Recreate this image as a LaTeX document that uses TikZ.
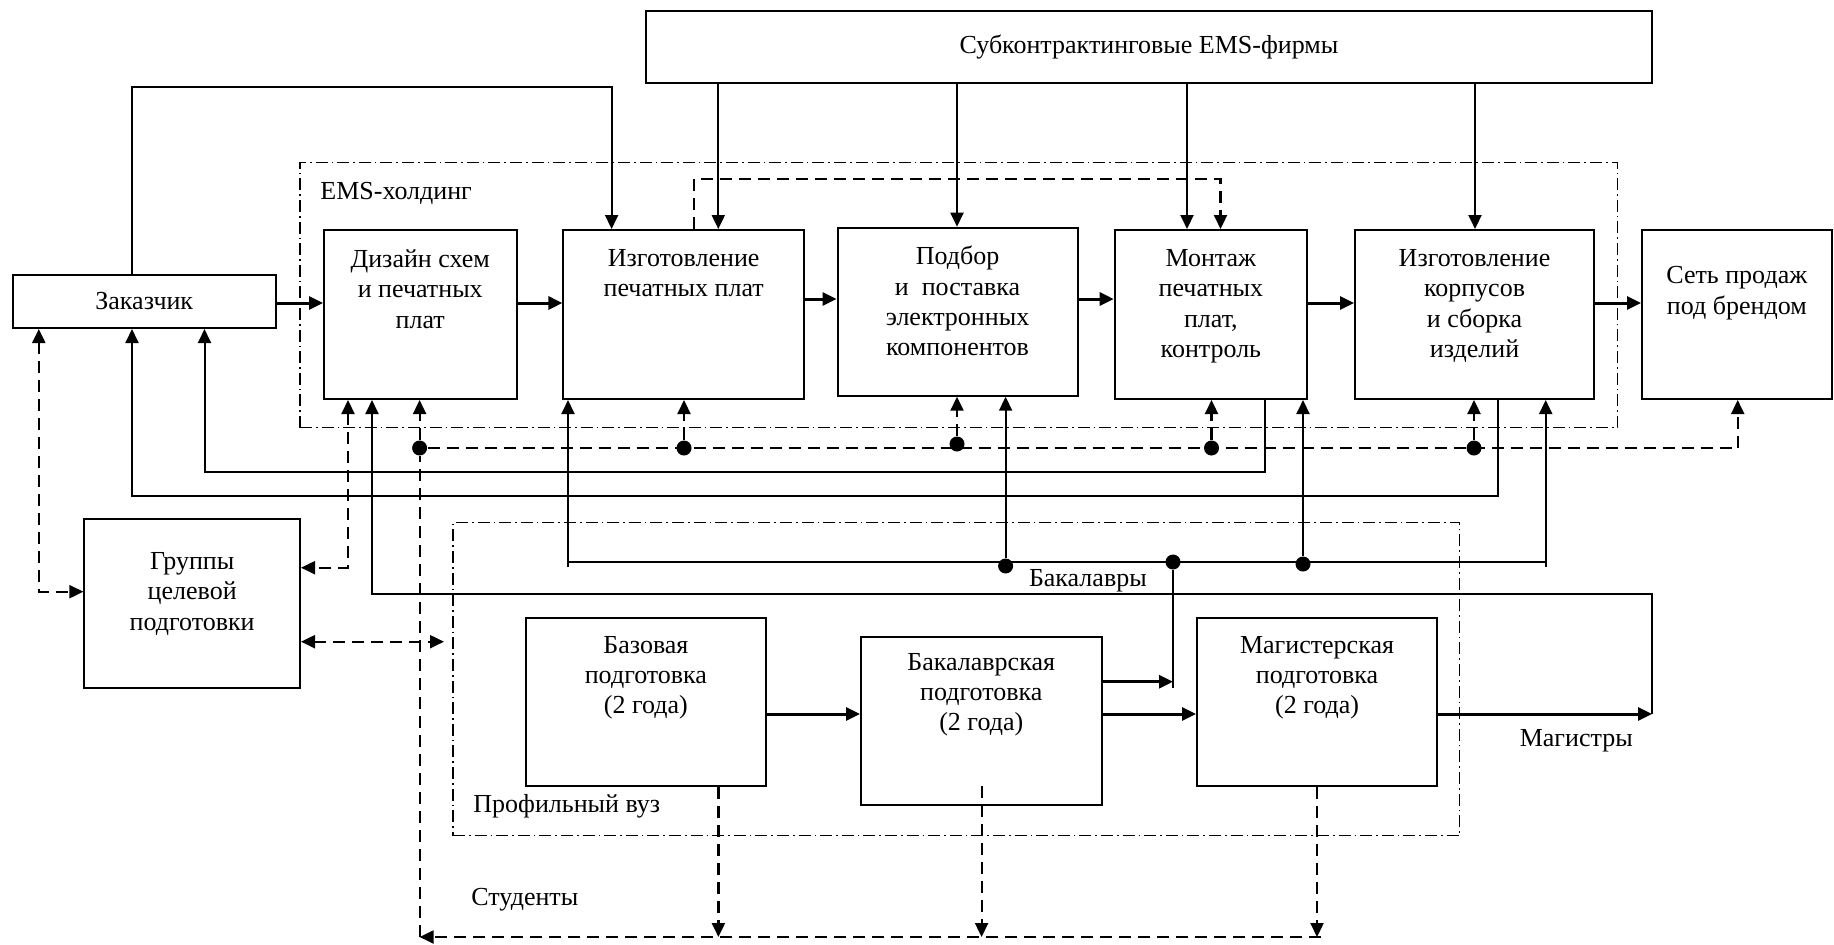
\documentclass[tikz,border=0pt]{standalone}
\usepackage{fontspec}
\setmainfont{Liberation Serif}
\usetikzlibrary{arrows.meta,calc}

% rectangle node given by its corners: [style]{name}{x1}{y1}{x2}{y2}
\newcommand\rbox[6][box]{%
  \node[#1, minimum width={(#5-#3)*0.5pt}, minimum height={(#6-#4)*0.5pt}]
    (#2) at ({(#3+#5)/2},{(#4+#6)/2}) {};}

\tikzset{
  box/.style={draw, line width=1pt, inner sep=0pt},
  zone/.style={draw, line width=0.7pt, inner sep=0pt,
               dash pattern=on 6pt off 2pt on 0.8pt off 2pt},
  txt/.style={align=center, inner sep=0pt, font=\fontsize{13}{15.2}\selectfont},
  flow/.style={line width=1.5pt, ->},
  conn/.style={line width=1pt},
  dsh/.style={line width=1.1pt, dash pattern=on 6pt off 3.5pt},
  dot/.style={circle, fill, inner sep=0pt, minimum size=7.5pt},
}

\begin{document}
\begin{tikzpicture}[x=0.5pt, y=-0.5pt, >={Triangle[length=7pt,width=6.5pt]}]
\useasboundingbox (0,0) rectangle (1834,944);

% dash-dotted zones
\rbox[zone]{ems}{300}{162.7}{1617.7}{427.7}
\rbox[zone]{vuz}{453}{522.7}{1459.6}{835.7}

% boxes
\rbox{zak}{12.5}{275}{276}{328}
\rbox{sub}{646}{10.7}{1652}{82.7}
\rbox{diz}{324}{230}{516.5}{399}
\rbox{izg}{563.4}{230}{804}{399}
\rbox{pod}{837.5}{227.7}{1077.6}{395.7}
\rbox{mon}{1114.7}{230}{1307}{399}
\rbox{kor}{1355}{230}{1594}{399}
\rbox{set}{1642}{230}{1831.6}{399}
\rbox{grp}{84.4}{519}{300}{688}
\rbox{baz}{526}{617.7}{765.8}{786}
\rbox{bak}{861}{636.7}{1101.5}{805}
\rbox{mag}{1197}{617.7}{1437}{786}

% box texts
\node[txt] (zakT) at (zak.center) {Заказчик};
\node[txt] (subT) at (sub.center) {Субконтрактинговые EMS-фирмы};
\node[txt, anchor=north] (dizT) at ([yshift=-10pt]diz.north) {Дизайн схем\\и печатных\\плат};
\node[txt, anchor=north] (izgT) at ([yshift=-10pt]izg.north) {Изготовление\\печатных плат};
\node[txt, anchor=north] (podT) at ([yshift=-9.5pt]pod.north) {Подбор\\и~ поставка\\электронных\\компонентов};
\node[txt, anchor=north] (monT) at ([yshift=-10pt]mon.north) {Монтаж\\печатных\\плат,\\контроль};
\node[txt, anchor=north] (korT) at ([yshift=-10pt]kor.north) {Изготовление\\корпусов\\и сборка\\изделий};
\node[txt, anchor=north] (setT) at ([yshift=-18.5pt]set.north) {Сеть продаж\\под брендом};
\node[txt, anchor=north] (grpT) at ([yshift=-17pt]grp.north) {Группы\\целевой\\подготовки};
\node[txt, anchor=north] (bazT) at ([yshift=-9.5pt]baz.north) {Базовая\\подготовка\\(2 года)};
\node[txt, anchor=north] (bakT) at ([yshift=-8.5pt]bak.north) {Бакалаврская\\подготовка\\(2 года)};
\node[txt, anchor=north] (magT) at ([yshift=-9.5pt]mag.north) {Магистерская\\подготовка\\(2 года)};

% free labels
\node[txt, anchor=north west] (emsL) at (320,182) {EMS-холдинг};
\node[txt, anchor=north west] (vuzL) at (473,794) {Профильный вуз};
\node[txt, anchor=north west] (stL) at (471,888) {Студенты};
\node[txt, anchor=north west] (bkL) at (1028.6,569) {Бакалавры};
\node[txt, anchor=north west] (mgL) at (1519.4,729) {Магистры};

% junction dots
\node[dot] (dD) at (419.6,448) {};
\node[dot] (dI) at (684,448) {};
\node[dot] (dP) at (957,444) {};
\node[dot] (dM) at (1211.5,448) {};
\node[dot] (dK) at (1474,448) {};
\node[dot] (bP) at (1005.6,566) {};
\node[dot] (bJ) at (1173,562) {};
\node[dot] (bM) at (1303,564) {};

% main production flow
\coordinate (rowA) at (0,303);
\coordinate (rowB) at (0,299);
\coordinate (rowC) at (0,714);
\draw[flow] (zak.east |- rowA) -- (diz.west |- rowA);
\draw[flow] (diz.east |- rowA) -- (izg.west |- rowA);
\draw[flow] (izg.east |- rowB) -- (pod.west |- rowB);
\draw[flow] (pod.east |- rowB) -- (mon.west |- rowB);
\draw[flow] (mon.east |- rowA) -- (kor.west |- rowA);
\draw[flow] (kor.east |- rowA) -- (set.west |- rowA);
\draw[flow] (baz.east |- rowC) -- (bak.west |- rowC);
\draw[flow] (bak.east |- rowC) -- (mag.west |- rowC);

% subcontractors feed the holding
\foreach \x/\b in {718.3/izg, 957/pod, 1187/mon, 1475/kor}{
  \coordinate (sx) at (\x,0);
  \draw[conn,->] (sub.south -| sx) -- (\b.north -| sx);
}

% order from the customer
\coordinate (tL) at (132,87);
\coordinate (tR) at (611.6,87);
\draw[conn,->] (zak.north -| tL) -- (tL) -- (tR) -- (izg.north -| tR);

% dashed loop over the holding
\coordinate (lA) at (693.7,179);
\coordinate (lB) at (1220.5,179);
\draw[dsh,->] (izg.north -| lA) -- (lA) -- (lB) -- (mon.north -| lB);

% dashed distribution row
\coordinate (eS) at (1737.7,448);
\draw[dsh] (dD) -- (eS);
\draw[dsh,->] (eS) -- (set.south -| eS);
\draw[dsh,->] (dD) -- (diz.south -| dD);
\draw[dsh,->] (dI) -- (izg.south -| dI);
\draw[dsh,->] (dP) -- (pod.south -| dP);
\draw[dsh,->] (dM) -- (mon.south -| dM);
\draw[dsh,->] (dK) -- (kor.south -| dK);

% students
\coordinate (stC) at (419.6,937);
\coordinate (stR) at (1321,937);
\draw[dsh,->] (stR) -- (stC);
\draw[dsh] (stC) -- (dD);
\foreach \x/\b in {718.4/baz, 1317/mag}{
  \coordinate (sx) at (\x,937);
  \draw[dsh,->] (\b.south -| sx) -- (sx);
}
\coordinate (bkS) at (981.6,786);
\coordinate (bkD) at (981.6,937);
\draw[dsh,->] (bkS) -- (bkD);

% target groups
\coordinate (zg) at (38.8,591.7);
\draw[dsh,<->] (zak.south -| zg) -- (zg) -- (grp.west |- zg);
\coordinate (dg) at (348,567.7);
\draw[dsh,<->] (diz.south -| dg) -- (dg) -- (grp.east |- dg);
\coordinate (gv) at (444,641.7);
\draw[dsh,<->] (grp.east |- gv) -- (gv);

% products back to the customer
\coordinate (mA) at (1264.7,471.7);
\coordinate (mB) at (204.5,471.7);
\draw[conn,->] (mon.south -| mA) -- (mA) -- (mB) -- (zak.south -| mB);
\coordinate (kA) at (1498.4,496);
\coordinate (kB) at (132,496);
\draw[conn,->] (kor.south -| kA) -- (kA) -- (kB) -- (zak.south -| kB);

% bachelors
\coordinate (bkE) at (1173,681.7);
\coordinate (bkB) at (1173,688);
\draw[flow] (bak.east |- bkE) -- (bkE);
\draw[conn] (bkB) -- (bJ);
\coordinate (bLl) at (568,561.7);
\coordinate (bLr) at (1545.7,561.7);
\draw[conn] (bLl) -- (bLr);
\coordinate (bIz) at (568,567);
\draw[conn,->] (bIz) -- (izg.south -| bIz);
\draw[conn,->] (bP) -- (pod.south -| bP);
\draw[conn,->] (bM) -- (mon.south -| bM);
\coordinate (bKo) at (1545.7,567);
\draw[conn,->] (bKo) -- (kor.south -| bKo);

% masters
\coordinate (mgE) at (1652,714);
\coordinate (mgT) at (1652,594);
\coordinate (mgW) at (372,594);
\draw[flow] (mag.east |- mgE) -- (mgE);
\draw[conn,->] (mgE) -- (mgT) -- (mgW) -- (diz.south -| mgW);
\end{tikzpicture}
\end{document}
